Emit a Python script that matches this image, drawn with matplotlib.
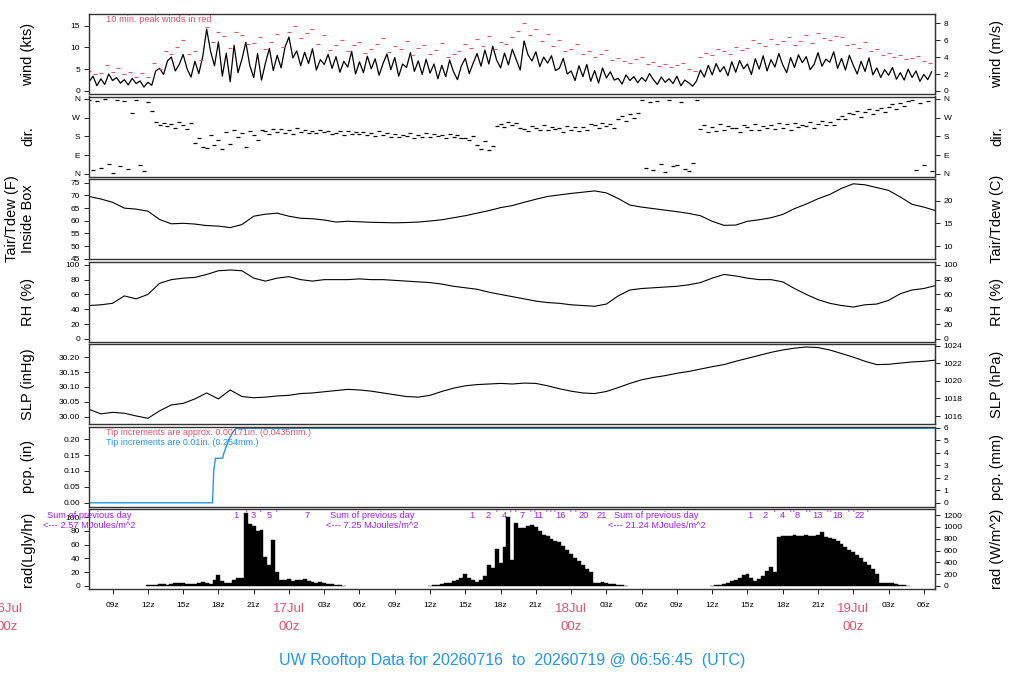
import numpy as np
import matplotlib.pyplot as plt
from matplotlib import transforms

plt.rcParams['font.family'] = ['Liberation Sans', 'DejaVu Sans']

# time axis: hours since 2026-07-16 00z
t_start, t_end = 6.95, 78.95

# wind (kts), every 20 min from 07z 16Jul
wind_kts = [
    2.1, 3.4, 1.2, 2.8, 1.5, 3.9, 2.4, 3.1, 1.8, 2.6, 1.4, 2.9,
    1.7, 2.3, 0.9, 2.0, 1.3, 4.6, 5.2, 3.8, 6.9, 7.8, 4.6, 6.1,
    8.4, 5.1, 3.2, 6.8, 4.0, 7.9, 14.2, 9.1, 5.8, 11.3, 3.4, 8.7,
    2.1, 10.5, 4.2, 7.3, 11.2, 5.9, 3.1, 8.6, 2.5, 6.4, 9.8, 4.7,
    8.2, 5.3, 10.1, 12.4, 7.6, 9.2, 5.8, 8.9, 6.3, 9.7, 4.8, 7.2,
    6.1, 8.4, 5.2, 7.9, 4.3, 6.8, 5.5, 9.1, 3.9, 6.7, 4.2, 8.0,
    5.1, 7.4, 3.6, 6.3, 8.5, 4.9, 7.7, 3.4, 6.2, 5.4, 8.8, 4.5,
    6.9, 3.8, 7.3, 4.1, 6.2, 2.8, 5.9, 3.3, 7.1, 4.4, 2.6, 5.8,
    7.5, 4.0, 6.4, 8.6, 5.7, 9.4, 6.2, 10.3, 7.1, 5.3, 8.7, 6.0,
    9.6, 7.2, 4.8, 11.5, 8.3, 6.9, 9.0, 5.6, 7.8, 6.4, 8.1, 4.7,
    5.2, 7.5, 3.9, 4.6, 2.4, 5.8, 3.3, 6.1, 2.2, 4.7, 1.8, 5.3,
    3.0, 4.4, 2.5, 2.9, 1.6, 3.7, 2.4, 3.3, 1.9, 3.1, 2.2, 4.0,
    2.6, 1.5, 3.2, 2.0, 2.8, 1.7, 3.4, 1.2, 2.5, 1.9, 1.1, 2.3,
    4.8, 3.2, 5.9, 3.7, 6.3, 4.4, 5.6, 3.5, 6.7, 4.3, 7.0, 5.1,
    6.2, 3.8, 7.4, 5.0, 8.1, 4.6, 7.2, 5.5, 8.6, 6.0, 4.2, 7.7,
    5.4, 8.3, 6.5, 7.9, 4.9, 6.1, 8.8, 5.7, 7.3, 6.6, 9.0, 5.2,
    7.5, 4.8, 8.2, 5.9, 3.9, 6.8, 4.5, 7.6, 3.7, 5.3, 3.1, 4.9,
    3.6, 5.4, 2.7, 4.2, 2.5, 5.0, 3.1, 4.6, 2.2, 3.8, 2.6, 4.4,
]
# 10 min peak winds (kts), every 30 min
peak_kts = [
    4.6, 3.8, 4.2, 5.9, 4.4, 5.2, 3.9, 4.4, 3.2, 4.1, 3.3, 6.4,
    5.1, 9.2, 8.6, 10.1, 11.8, 8.5, 9.3, 7.1, 14.6, 11.2, 13.5, 12.6,
    9.8, 13.6, 12.8, 10.9, 11.0, 12.5, 9.6, 11.3, 13.1, 10.2, 13.6, 15.0,
    12.2, 13.4, 14.2, 10.8, 12.9, 9.4, 10.6, 11.7, 9.2, 10.5, 11.3, 8.7,
    9.7, 10.9, 12.2, 8.9, 10.4, 9.6, 11.5, 8.3, 9.8, 10.6, 8.5, 9.4,
    11.0, 7.9, 8.6, 9.2, 10.8, 9.9, 11.9, 10.3, 12.6, 9.7, 11.2, 10.8,
    12.4, 13.8, 15.6, 12.9, 14.2, 11.6, 13.1, 10.4, 11.8, 9.3, 9.6, 10.9,
    8.4, 9.1, 7.8, 8.6, 9.4, 7.2, 7.6, 6.8, 6.5, 7.3, 7.9, 6.1,
    6.6, 5.8, 6.2, 5.5, 5.9, 6.4, 5.1, 4.6, 7.8, 8.8, 8.2, 9.7,
    9.1, 8.4, 10.2, 9.5, 9.8, 11.7, 11.1, 10.3, 12.0, 10.8, 11.4, 12.3,
    10.5, 11.6, 12.9, 11.0, 13.4, 12.1, 11.8, 12.7, 12.4, 10.6, 10.9, 9.8,
    11.3, 9.1, 9.6, 8.2, 8.8, 7.9, 8.3, 7.4, 7.6, 8.1, 7.0, 6.5,
]
# wind direction (deg), every 20 min
wind_dir = [
    355, 20, 350, 30, 358, 45, 5, 352, 35, 348, 25, 290,
    355, 40, 15, 345, 300, 250, 235, 245, 228, 240, 222, 250,
    232, 215, 245, 150, 170, 130, 125, 185, 140, 160, 120, 200,
    145, 210, 175, 198, 130, 205, 185, 160, 210, 205, 190, 215,
    200, 215, 195, 208, 192, 218, 202, 210, 196, 205, 198, 212,
    200, 207, 193, 196, 205, 188, 203, 192, 199, 190, 200, 184,
    195, 182, 205, 186, 198, 178, 192, 175, 188, 183, 195, 172,
    188, 178, 196, 176, 190, 182, 185, 170, 193, 178, 188, 172,
    172, 160, 182, 140, 120, 155, 115, 135, 230, 240, 225, 250,
    235, 245, 220, 215, 205, 228, 222, 210, 232, 208, 225, 215,
    218, 200, 230, 212, 226, 205, 225, 210, 238, 232, 218, 245,
    228, 240, 220, 262, 275, 255, 285, 270, 290, 355, 30, 345,
    20, 350, 45, 10, 355, 35, 40, 345, 25, 15, 50, 355,
    215, 235, 200, 225, 205, 240, 212, 230, 220, 218, 200, 232,
    225, 212, 238, 210, 228, 220, 232, 215, 245, 220, 238, 212,
    245, 225, 235, 230, 250, 222, 240, 255, 236, 250, 235, 262,
    275, 262, 290, 285, 300, 272, 295, 310, 285, 305, 318, 298,
    320, 335, 310, 340, 325, 350, 355, 20, 340, 40, 350, 15,
]
# hourly values 07z 16Jul .. 07z 19Jul
tair_f = [
    69.6, 68.6, 67.3, 65.0, 64.6, 63.8, 60.5, 58.8, 59.0, 58.7, 58.1, 57.9,
    57.3, 58.5, 61.8, 62.6, 63.0, 61.8, 61.0, 60.8, 60.3, 59.5, 59.8, 59.6,
    59.4, 59.3, 59.2, 59.3, 59.5, 59.9, 60.4, 61.2, 62.0, 63.0, 64.0, 65.2,
    66.0, 67.3, 68.5, 69.6, 70.2, 70.8, 71.3, 71.8, 71.0, 68.8, 66.2, 65.4,
    64.8, 64.2, 63.6, 62.9, 62.0, 59.8, 58.2, 58.3, 59.8, 60.4, 61.2, 62.5,
    64.8, 66.6, 68.7, 70.4, 72.8, 74.6, 74.2, 73.1, 72.0, 69.4, 66.5, 65.4,
    64.0,
]
rh_pct = [
    45, 46, 48, 58, 54, 60, 75, 80, 82, 83, 87, 92,
    93, 92, 82, 78, 82, 84, 80, 78, 80, 80, 80, 81,
    80, 80, 79, 78, 77, 76, 74, 71, 69, 67, 63, 60,
    57, 54, 51, 49, 48, 46, 45, 44, 47, 58, 66, 68,
    69, 70, 71, 73, 76, 82, 87, 85, 82, 80, 80, 77,
    68, 60, 53, 48, 45, 43, 46, 47, 52, 61, 66, 68,
    72,
]
slp_inhg = [
    30.025, 30.010, 30.015, 30.012, 30.003, 29.995, 30.020, 30.040, 30.045, 30.060, 30.080, 30.060,
    30.090, 30.068, 30.064, 30.066, 30.070, 30.072, 30.078, 30.080, 30.084, 30.088, 30.092, 30.090,
    30.086, 30.080, 30.074, 30.068, 30.066, 30.072, 30.085, 30.096, 30.104, 30.108, 30.110, 30.112,
    30.110, 30.113, 30.112, 30.104, 30.094, 30.086, 30.080, 30.078, 30.085, 30.098, 30.112, 30.124,
    30.132, 30.138, 30.146, 30.152, 30.160, 30.168, 30.175, 30.186, 30.196, 30.206, 30.216, 30.224,
    30.230, 30.234, 30.232, 30.224, 30.212, 30.200, 30.186, 30.175, 30.176, 30.180, 30.184, 30.186,
    30.190,
]
# cumulative precip (in)
pcp_t = [6.95, 17.5, 17.6, 17.75, 18.35, 18.5, 18.7, 18.9, 19.2, 19.5, 78.95]
pcp_in = [0, 0, 0.10, 0.14, 0.14, 0.16, 0.18, 0.20, 0.22, 0.234, 0.234]

# solar radiation (Langley/hr), every 20 min, one list per day
rad_day1 = [1, 1.5, 2, 3, 2.5, 2, 3, 4, 5, 4, 3, 2.5, 3, 4, 6, 5, 3, 9,
            16, 7, 4, 5, 8, 11, 12, 106, 90, 87, 80, 82, 42, 30, 67, 20, 9, 8,
            10, 7, 9, 8, 10, 7, 6, 5, 6, 4, 3, 2.5, 2, 1, 0.5]
rad_day2 = [0.5, 1, 2, 3, 4, 5, 7, 9, 11, 17, 12, 8, 6, 9, 14, 31, 26, 54,
            33, 56, 100, 38, 92, 85, 84, 87, 88, 86, 80, 74, 72, 69, 66, 64, 58, 52,
            46, 40, 36, 31, 25, 20, 4, 5, 6, 4, 3, 2.5, 2, 1, 0.5]
rad_day3 = [0.5, 1, 2, 3, 5, 7, 9, 12, 16, 18, 11, 7, 10, 15, 22, 28, 20, 71,
            72, 73, 72, 74, 73, 73, 74, 72, 73, 74, 78, 71, 70, 69, 65, 61, 57, 53,
            50, 45, 40, 35, 30, 25, 18, 5, 4, 5, 4, 3, 2, 1, 0.5]
rad_start = [12.0, 36.0, 60.0]

rad_sum_t = [6.98, 31.1, 55.26]
rad_sum_txt = ['2.57', '7.25', '21.24']
rad_num_t = [19.5, 20.98, 22.32, 25.54,
             39.57, 40.96, 42.28, 43.84, 45.23, 47.11, 49.03, 50.59,
             63.18, 64.46, 65.96, 67.27, 68.95, 70.66, 72.53]
rad_num_lbl = ['1', '3', '5', '7',
               '1', '2', '4', '7', '11', '16', '20', '21',
               '1', '2', '4', '8', '13', '18', '22']
rad_tick_t = [20.42, 21.55, 22.92,
              41.62, 42.82, 43.24, 44.52, 44.84, 45.89, 46.26, 46.6, 47.94, 48.37,
              65.28, 66.62, 66.9, 67.97, 68.26, 69.77, 70.06, 71.56, 72.02, 73.22]

RED = '#DF536B'
BLUE = '#2297E6'
PURPLE = '#A020F0'

W, H = 1024, 700
fig = plt.figure(figsize=(W / 100, H / 100), dpi=100)

left_px, right_px = 88.5, 935
axes = []
for i in range(7):
    top = 14 + i * 82.5
    ax = fig.add_axes([left_px / W, 1 - (top + 80) / H, (right_px - left_px) / W, 80 / H])
    ax.set_xlim(t_start, t_end)
    for s in ax.spines.values():
        s.set_color('#333333')
        s.set_linewidth(1.0)
    ax.tick_params(axis='y', direction='out', length=3.6, width=0.6, labelsize=6, pad=2.5)
    ax.tick_params(axis='x', bottom=False, labelbottom=False)
    axes.append(ax)

ax_w, ax_d, ax_t, ax_rh, ax_p, ax_pcp, ax_r = axes

def right_axis(ax, f, finv, ticks, labels=None):
    sec = ax.secondary_yaxis('right', functions=(f, finv))
    sec.set_yticks(ticks)
    if labels is not None:
        sec.set_yticklabels(labels)
    sec.tick_params(direction='out', length=3.6, width=0.6, labelsize=6, pad=2.5)
    sec.spines['right'].set_color('#333333')
    return sec

# wind
wt = 7.0 + np.arange(len(wind_kts)) / 3
pt = 7.0 + np.arange(len(peak_kts)) / 2
ax_w.plot(wt, wind_kts, color='black', lw=0.9)
ax_w.plot(pt, peak_kts, ls='none', marker='_', ms=3, mew=0.8, color=RED)
ax_w.set_ylim(-0.7, 17.7)
ax_w.set_yticks([0, 5, 10, 15])
right_axis(ax_w, lambda k: k * 0.5144, lambda m: m / 0.5144, [0, 2, 4, 6, 8])
ax_w.text(8.4, 0.93, '10 min. peak winds in red', color=RED, fontsize=6.7, va='center',
          transform=transforms.blended_transform_factory(ax_w.transData, ax_w.transAxes))

# direction
ax_d.plot(wt, wind_dir, ls='none', marker='_', ms=2.6, mew=0.9, color='black')
ax_d.set_ylim(-13, 371)
ax_d.set_yticks([0, 90, 180, 270, 360])
ax_d.set_yticklabels(['N', 'E', 'S', 'W', 'N'])
right_axis(ax_d, lambda x: x, lambda x: x, [0, 90, 180, 270, 360], ['N', 'E', 'S', 'W', 'N'])

# temperature
ht = np.arange(7, 7 + len(tair_f))
ax_t.plot(ht, tair_f, color='black', lw=0.8)
ax_t.set_ylim(44.9, 76.5)
ax_t.set_yticks([45, 50, 55, 60, 65, 70, 75])
right_axis(ax_t, lambda f: (f - 32) / 1.8, lambda c: c * 1.8 + 32, [10, 15, 20])

# humidity
ax_rh.plot(ht, rh_pct, color='black', lw=0.8)
ax_rh.set_ylim(-3.6, 104.5)
ax_rh.set_yticks([0, 20, 40, 60, 80, 100])
right_axis(ax_rh, lambda x: x, lambda x: x, [0, 20, 40, 60, 80, 100])

# pressure
ax_p.plot(ht, slp_inhg, color='black', lw=0.8)
ax_p.set_ylim(29.976, 30.244)
ax_p.set_yticks([30.00, 30.05, 30.10, 30.15, 30.20])
ax_p.set_yticklabels(['30.00', '30.05', '30.10', '30.15', '30.20'])
right_axis(ax_p, lambda x: x * 33.8639, lambda h: h / 33.8639, [1016, 1018, 1020, 1022, 1024])

# precipitation
ax_pcp.plot(pcp_t, pcp_in, color=BLUE, lw=1.0)
ax_pcp.set_ylim(-0.0116, 0.2396)
ax_pcp.set_yticks([0, 0.05, 0.10, 0.15, 0.20])
ax_pcp.set_yticklabels(['0.00', '0.05', '0.10', '0.15', '0.20'])
right_axis(ax_pcp, lambda x: x * 25.4, lambda m: m / 25.4, [0, 1, 2, 3, 4, 5, 6])
tr_pcp = transforms.blended_transform_factory(ax_pcp.transData, ax_pcp.transAxes)
ax_pcp.text(8.4, 0.922, 'Tip increments are approx. 0.00171in. (0.0435mm.)', color=RED,
            fontsize=6.5, va='center', transform=tr_pcp)
ax_pcp.text(8.4, 0.806, 'Tip increments are 0.01in. (0.254mm.)', color=BLUE,
            fontsize=6.5, va='center', transform=tr_pcp)

# radiation
for start, vals in zip(rad_start, [rad_day1, rad_day2, rad_day3]):
    rt = start + np.arange(len(vals)) / 3
    ax_r.bar(rt, vals, width=1 / 3, color='black', edgecolor='black', lw=0.3)
ax_r.set_ylim(-4.4, 112)
ax_r.set_yticks([0, 20, 40, 60, 80, 100])
right_axis(ax_r, lambda x: x * 11.63, lambda w: w / 11.63, [0, 200, 400, 600, 800, 1000, 1200])
tr_rad = transforms.blended_transform_factory(ax_r.transData, ax_r.transAxes)
for ts, s in zip(rad_sum_t, rad_sum_txt):
    ax_r.text(ts, 0.925, 'Sum of previous day', color=PURPLE, fontsize=6.7,
              ha='center', va='center', transform=tr_rad, clip_on=False)
    ax_r.text(ts, 0.79, '<--- ' + s + ' MJoules/m^2', color=PURPLE, fontsize=6.7,
              ha='center', va='center', transform=tr_rad, clip_on=False)
for tn, s in zip(rad_num_t, rad_num_lbl):
    ax_r.text(tn, 0.925, s, color=PURPLE, fontsize=6.7, ha='center', va='center',
              transform=tr_rad)
for tk in rad_tick_t:
    ax_r.text(tk, 0.94, "'", color=PURPLE, fontsize=6.7, ha='center', va='center',
              transform=tr_rad)

# x axis on bottom panel
xt = np.arange(9, 79, 3)
ax_r.set_xticks(xt)
ax_r.set_xticklabels(['' if h % 24 == 0 else '%02dz' % (h % 24) for h in xt])
ax_r.tick_params(axis='x', bottom=True, labelbottom=True, direction='out', length=3.6,
                 width=0.6, labelsize=6, pad=6)
tr_day = transforms.blended_transform_factory(ax_r.transData, fig.transFigure)
for d, day in enumerate(['16Jul', '17Jul', '18Jul', '19Jul']):
    fig.text(24 * d, 1 - 609 / H, day, color=RED, fontsize=9.5, ha='center', va='center',
             transform=tr_day)
    fig.text(24 * d, 1 - 627 / H, '00z', color=RED, fontsize=9.5, ha='center', va='center',
             transform=tr_day)

# axis labels
left_lbl = ['wind (kts)', 'dir.', 'Tair/Tdew (F)\nInside Box', 'RH (%)', 'SLP (inHg)',
            'pcp. (in)', 'rad(Lgly/hr)']
right_lbl = ['wind (m/s)', 'dir.', 'Tair/Tdew (C)', 'RH (%)', 'SLP (hPa)', 'pcp. (mm)',
             'rad (W/m^2)']
for i in range(7):
    yc = 1 - (14 + i * 82.5 + 40) / H
    xl = 20 / W if i == 2 else 28 / W
    fig.text(xl, yc, left_lbl[i], rotation=90, fontsize=10.5, ha='center', va='center',
             multialignment='center')
    fig.text(997 / W, yc, right_lbl[i], rotation=90, fontsize=10.5, ha='center', va='center')

fig.text(0.5, 1 - 660 / H, 'UW Rooftop Data for 20260716  to  20260719 @ 06:56:45  (UTC)',
         color=BLUE, fontsize=11.5, ha='center', va='center')

fig.savefig('out.png', dpi=100)
